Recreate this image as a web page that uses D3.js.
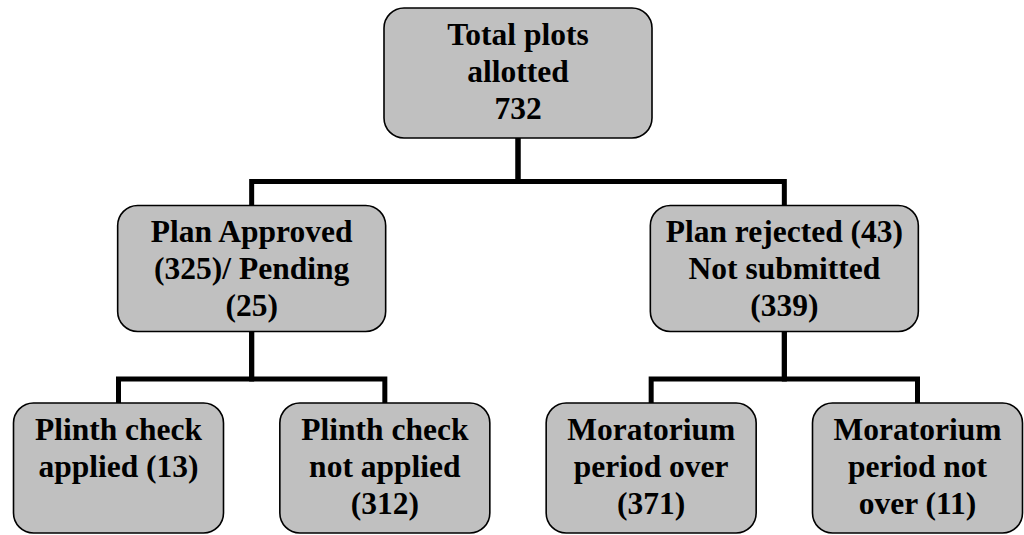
<!DOCTYPE html>
<html>
<head>
<meta charset="utf-8">
<script src="https://cdn.jsdelivr.net/npm/d3@7"></script>
<style>
  html, body { margin: 0; padding: 0; background: #ffffff; }
  svg { display: block; }
</style>
</head>
<body>
<svg id="chart" width="1024" height="535"></svg>
<script>
// ---- data ----
const nodeIds = ["total", "approved", "rejected", "plinthApplied", "plinthNotApplied", "moratoriumOver", "moratoriumNotOver"];
const nodeParents = ["", "total", "total", "approved", "approved", "rejected", "rejected"];
const nodeLabels = [
  ["Total plots", "allotted", "732"],
  ["Plan Approved", "(325)/ Pending", "(25)"],
  ["Plan rejected (43)", "Not submitted", "(339)"],
  ["Plinth check", "applied (13)"],
  ["Plinth check", "not applied", "(312)"],
  ["Moratorium", "period over", "(371)"],
  ["Moratorium", "period not", "over (11)"]
];

// ---- layout ----
const W = 1024, H = 535;
const boxW = [268, 268, 210];
const boxH = [130, 126, 130];
const rows = nodeIds.map((id, i) => ({ id, parent: nodeParents[i] || null, lines: nodeLabels[i] }));
const root = d3.stratify().id(d => d.id).parentId(d => d.parent)(rows);

d3.tree().nodeSize([266.3, 1]).separation(() => 1)(root);

const xs = root.descendants().map(d => d.x);
const xScale = d3.scaleLinear()
  .domain([d3.min(xs), d3.max(xs)])
  .range([118.5, 917.5]);
const yScale = d3.scaleLinear().domain([0, 2]).range([8, 403]);

const svg = d3.select("#chart");

// connectors
const linkG = svg.append("g");
root.links().forEach(l => {
  const px = xScale(l.source.x), cx = xScale(l.target.x);
  const pBottom = yScale(l.source.depth) + boxH[l.source.depth];
  const cTop = yScale(l.target.depth);
  const midY = cTop - 24;
  linkG.append("path")
    .attr("d", `M${px},${pBottom}V${midY}H${cx}V${cTop}`)
    .attr("fill", "none")
    .attr("stroke", "#000")
    .attr("stroke-width", 5)
    .attr("stroke-linejoin", "miter")
    .attr("stroke-linecap", "square");
});

// nodes
const nodeG = svg.append("g")
  .selectAll("g")
  .data(root.descendants())
  .join("g")
  .attr("transform", d => `translate(${xScale(d.x)},${yScale(d.depth)})`);

nodeG.append("rect")
  .attr("x", d => -boxW[d.depth] / 2)
  .attr("y", 0)
  .attr("width", d => boxW[d.depth])
  .attr("height", d => boxH[d.depth])
  .attr("rx", 20)
  .attr("ry", 20)
  .attr("fill", "#c0c0c0")
  .attr("stroke", "#000")
  .attr("stroke-width", 1.6);

nodeG.append("text")
  .style("font", 'bold 31.5px "Liberation Serif", serif')
  .attr("text-anchor", "middle")
  .attr("fill", "#000")
  .selectAll("tspan")
  .data(d => d.data.lines)
  .join("tspan")
  .attr("x", 0)
  .attr("y", (t, i) => 36.5 + i * 37)
  .text(t => t);
</script>
</body>
</html>
